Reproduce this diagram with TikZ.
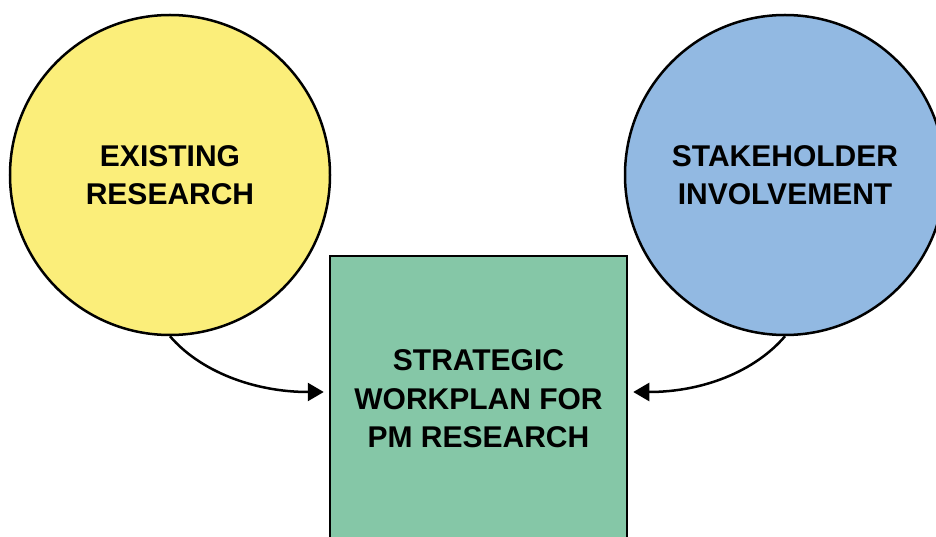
\documentclass[tikz,border=0pt]{standalone}
\usepackage{fontspec}
\setmainfont{Liberation Sans}
\usepackage{xcolor}
\usetikzlibrary{arrows.meta}
\definecolor{sun}{RGB}{251,238,122}
\definecolor{sky}{RGB}{146,185,226}
\definecolor{mint}{RGB}{133,199,167}
\begin{document}
\begin{tikzpicture}[x=1bp, y=-1bp, main node/.style={circle, draw, line width=2.5bp, minimum size=320bp, inner sep=0pt, align=center, font=\fontsize{30bp}{38.5bp}\selectfont\bfseries}, box node/.style={rectangle, draw, line width=2.5bp, minimum width=297bp, minimum height=286bp, align=center, font=\fontsize{30bp}{38.5bp}\selectfont\bfseries}, link/.style={-{Triangle[length=16bp,width=18bp]}, line width=2.5bp, shorten >=5bp}]
\useasboundingbox (0,0) rectangle (936,537);
\node[main node, fill=sun] (1) at (170,175) {EXISTING\\RESEARCH};
\node[main node, fill=sky] (2) at (785,175) {STAKEHOLDER\\INVOLVEMENT};
\node[box node, fill=mint] (3) at (478.5,399) {STRATEGIC\\WORKPLAN FOR\\PM RESEARCH};
\draw[link] (1.south) .. controls +(30,35) and +(-75,0) .. ([yshift=7bp]3.west);
\draw[link] (2.south) .. controls +(-30,35) and +(75,0) .. ([yshift=7bp]3.east);
\end{tikzpicture}
\end{document}
